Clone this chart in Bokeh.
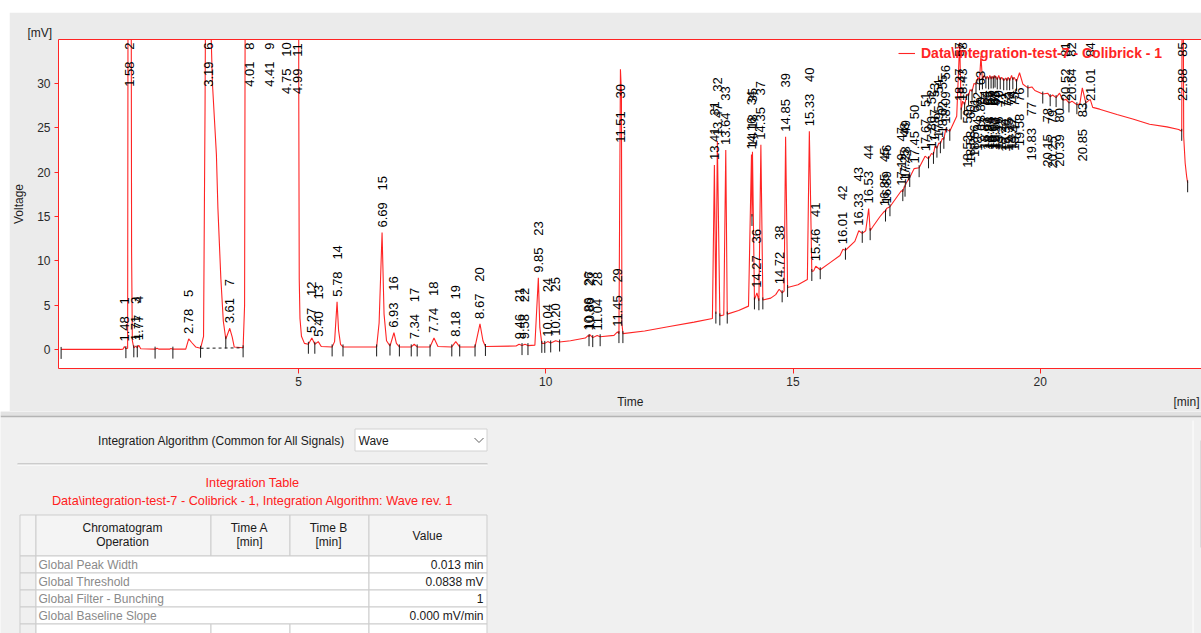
from math import pi

import numpy as np
from bokeh.core.properties import value
from bokeh.embed import file_html
from bokeh.layouts import column, row
from bokeh.models import FixedTicker, Legend, LegendItem, LinearAxis, Range1d, Spacer, Title
from bokeh.plotting import figure
from bokeh.resources import INLINE

FONT = "Liberation Sans"
RED = "#ff2424"
NBSP = "\u00a0"

# ---------------------------------------------------------------------------
# Chromatogram: signal outline between the peak apexes [min, mV]
# ---------------------------------------------------------------------------
signal_min = [
    0.20, 1.40, 1.45, 1.51, 1.545, 1.625, 1.64, 1.67, 1.74, 1.81, 2.10, 2.14, 2.18,
    2.40, 2.42, 2.46, 2.72, 2.84, 2.92, 3.02, 3.08, 3.11, 3.23, 3.26, 3.30, 3.34,
    3.37, 3.40, 3.43, 3.48, 3.53, 3.66, 3.70, 3.88, 3.91, 4.20, 4.60, 4.88, 5.005,
    5.015, 5.03, 5.06, 5.12, 5.20, 5.33, 5.46, 5.68, 5.73, 5.81, 5.85, 5.90, 6.58,
    6.63, 6.73, 6.78, 6.85, 6.98, 7.04, 7.28, 7.40, 7.66, 7.82, 8.10, 8.26, 8.57,
    8.73, 8.78, 9.40, 9.52, 9.64, 9.78, 9.88, 9.92, 9.98, 10.10, 10.28, 10.50,
    10.80, 10.875, 10.95, 11.10, 11.38, 11.48, 11.53, 11.54, 11.56, 12.00, 12.50,
    13.00, 13.37, 13.44, 13.52, 13.60, 13.67, 13.90, 14.10, 14.17, 14.22, 14.31,
    14.39, 14.55, 14.65, 14.78, 14.82, 14.89, 15.10, 15.29, 15.35, 15.38, 15.42,
    15.55, 15.75, 15.95, 16.06, 16.25, 16.40, 16.47, 16.56, 16.62, 16.76, 16.87,
    16.96, 17.10, 17.22, 17.265, 17.36, 17.55, 17.74, 17.84, 17.91, 17.98, 18.05,
    18.17, 18.31, 18.40, 18.47, 18.55, 18.62, 18.70, 18.77, 18.83, 18.90, 18.955,
    19.005, 19.05, 19.085, 19.13, 19.19, 19.26, 19.325, 19.38, 19.445, 19.52,
    19.65, 19.75, 19.89, 20.05, 20.20, 20.32, 20.46, 20.58, 20.74, 20.80, 20.92,
    21.06, 21.20, 21.55, 21.87, 22.21, 22.56, 22.80, 22.86, 22.90, 22.93, 22.96,
    22.98,
]
signal_mv = [
    0.02, 0.02, 0.05, 0.10, 0.15, 11.0, 1.0, 0.2, 0.2, 0.1, 0.05, 0.15, 0.05,
    0.05, 0.12, 0.05, 0.05, 0.8, 0.3, 0.15, 1.5, 27.0, 36.0, 30.0, 26.0, 22.0,
    16.0, 12.0, 8.0, 3.2, 1.2, 1.4, 0.3, 0.2, 5.0, 150.0, 150.0, 200.0, 30.0,
    8.0, 3.5, 1.5, 0.7, 0.6, 0.6, 0.35, 0.3, 0.9, 2.2, 0.6, 0.3, 0.3,
    3.0, 4.0, 1.0, 0.4, 0.7, 0.3, 0.3, 0.3, 0.3, 0.35, 0.3, 0.3, 0.3,
    1.0, 0.35, 0.4, 0.45, 0.45, 0.5, 2.5, 0.7, 0.7, 0.75, 0.85, 1.0,
    1.3, 1.45, 1.35, 1.45, 1.6, 1.8, 29.0, 3.0, 1.8, 2.1, 2.6,
    3.1, 3.5, 4.0, 3.8, 3.9, 4.0, 4.4, 4.9, 15.0, 5.6, 5.5,
    5.6, 5.8, 6.2, 6.4, 6.6, 7.0, 7.3, 7.9, 18.5, 8.8, 8.9,
    9.0, 9.8, 10.6, 11.2, 12.2, 13.1, 13.4, 13.4, 13.9, 15.0, 15.5,
    16.1, 17.2, 17.8, 18.3, 19.4, 20.5, 21.5, 22.0, 22.7, 23.2, 23.7,
    24.6, 26.3, 27.0, 27.6, 28.6, 29.1, 29.9, 30.3, 30.4, 30.5, 30.4,
    30.5, 30.5, 30.6, 30.4, 30.4, 30.3, 30.3, 30.3, 30.4, 30.2,
    29.9, 29.5, 29.2, 28.8, 28.5, 28.4, 28.1, 27.8, 27.6, 27.7, 27.8,
    27.3, 27.1, 26.5, 26.0, 25.4, 25.1, 24.8, 24.6, 24.0, 21.0, 19.5,
    18.8,
]

# Integrated peaks: number, retention time [min], apex [mV]
peak_no = list(range(1, 86))
peak_min = [
    1.48, 1.58, 1.71, 1.77, 2.78, 3.19, 3.61, 4.01, 4.41, 4.75,
    4.99, 5.27, 5.40, 5.78, 6.69, 6.93, 7.34, 7.74, 8.18, 8.67,
    9.46, 9.58, 9.85, 10.04, 10.20, 10.86, 10.89, 11.04, 11.45, 11.51,
    13.41, 13.47, 13.64, 14.16, 14.18, 14.27, 14.35, 14.72, 14.85, 15.33,
    15.46, 16.01, 16.33, 16.53, 16.85, 16.89, 17.19, 17.25, 17.28, 17.45,
    17.67, 17.80, 17.87, 17.95, 18.02, 18.09, 18.37, 18.43, 18.52, 18.58,
    18.66, 18.74, 18.80, 18.87, 18.93, 18.98, 19.03, 19.07, 19.10, 19.16,
    19.22, 19.30, 19.35, 19.42, 19.47, 19.58, 19.83, 20.15, 20.25, 20.39,
    20.52, 20.64, 20.85, 21.01, 22.88,
]
peak_mv = [
    0.35, 180.0, 0.4, 0.5, 1.2, 120.0, 2.4, 300.0, 300.0, 300.0,
    400.0, 1.3, 0.9, 5.4, 13.2, 1.9, 0.6, 1.3, 0.9, 2.9,
    0.6, 0.6, 8.1, 0.9, 1.0, 1.6, 1.7, 1.6, 2.0, 31.6,
    20.8, 23.5, 22.5, 22.0, 22.3, 6.4, 23.1, 6.8, 24.0, 24.6,
    9.4, 11.3, 13.4, 15.9, 15.6, 15.9, 17.9, 18.4, 18.7, 20.4,
    21.8, 22.1, 22.9, 23.3, 23.8, 24.9, 34.6, 28.0, 28.8, 29.3,
    30.0, 30.7, 33.1, 30.9, 30.8, 30.9, 30.8, 30.9, 30.8, 30.9,
    30.7, 30.6, 30.7, 30.9, 30.7, 31.2, 29.6, 28.9, 28.7, 28.9,
    28.2, 28.0, 29.5, 28.2, 60.0,
]

# peak groups integrated on a common (dashed) baseline: first and last peak number
common_baselines = [(6, 7)]

y_ticks = [0, 5, 10, 15, 20, 25, 30]
x_ticks = [5, 10, 15, 20]

# Integration table contents
table_rows = ["Global Peak Width", "Global Threshold", "Global Filter - Bunching", "Global Baseline Slope"]
table_values = ["0.013 min", "0.0838 mV", "1", "0.000 mV/min"]

# ---------------------------------------------------------------------------
# Chromatogram figure
# ---------------------------------------------------------------------------
X0, X1 = 0.147, 23.26
Y0, Y1 = -2.13, 34.95
FRAME_W, FRAME_H = 1143, 330
PX_Y = FRAME_H / (Y1 - Y0)

p = figure(
    width=1192, height=399,
    x_range=Range1d(X0, X1), y_range=Range1d(Y0, Y1),
    output_backend="svg", toolbar_location=None,
    min_border_left=49, min_border_right=0, min_border_top=27, min_border_bottom=42,
    background_fill_color="white", border_fill_color="#ebebeb",
    outline_line_color=None,
)
p.grid.visible = False

for ax in (p.xaxis[0], p.yaxis[0]):
    ax.axis_line_color = RED
    ax.major_tick_line_color = RED
    ax.minor_tick_line_color = None
    ax.major_tick_in = 0
    ax.major_label_text_font = FONT
    ax.major_label_text_font_size = "12px"
    ax.major_label_text_color = "#2a2a2a"
    ax.axis_label_text_font = FONT
    ax.axis_label_text_font_size = "12px"
    ax.axis_label_text_font_style = "normal"
    ax.axis_label_text_color = "#1e1e1e"

# the time caption is centred under the frame, the unit sits at its right end
NB_W = 3.336          # width of a no-break space at 12px
left_pad = NBSP * 167
right_pad = NBSP * 159
p.xaxis[0].ticker = FixedTicker(ticks=x_ticks)
p.xaxis[0].axis_label = left_pad + "Time" + right_pad + "[min]"
p.xaxis[0].major_tick_out = 5
p.xaxis[0].major_label_standoff = 3
p.xaxis[0].axis_label_standoff = 6

p.yaxis[0].ticker = FixedTicker(ticks=y_ticks)
p.yaxis[0].axis_label = "Voltage"
p.yaxis[0].major_tick_out = 4
p.yaxis[0].major_label_standoff = 4
p.yaxis[0].axis_label_standoff = 8

top_axis = LinearAxis(
    ticker=FixedTicker(ticks=[]), axis_line_color=RED,
    major_tick_line_color=None, minor_tick_line_color=None,
    major_tick_out=0, major_tick_in=0, major_label_standoff=0,
    major_label_text_font_size="0px",
)
p.add_layout(top_axis, "above")
p.add_layout(Title(text="[mV]", align="left", offset=-31, standoff=0, text_font=FONT,
                   text_font_size="12px", text_font_style="normal", text_color="#1e1e1e"), "above")

# merged signal: outline points plus peak apexes
t_all = np.array(signal_min + peak_min)
v_all = np.array(signal_mv + peak_mv)
order = np.argsort(t_all, kind="stable")
trace_t = t_all[order]
trace_v = v_all[order]
trace = p.line(trace_t, trace_v, line_color=RED, line_width=1.1)

# peak start / end markers at the valleys on both sides of each apex
apex_index = {t: int(np.where(trace_t == t)[0][0]) for t in peak_min}
valleys = {}
marks = set()
for n, t in zip(peak_no, peak_min):
    i = apex_index[t]
    j = i - 1
    while j > 0 and trace_v[j - 1] <= trace_v[j]:
        j -= 1
    k = i + 1
    while k < len(trace_v) - 1 and trace_v[k + 1] <= trace_v[k]:
        k += 1
    valleys[n] = (j, k)
    for idx in (j, k):
        if trace_v[idx] < Y1 - 1:
            marks.add(idx)
marks = sorted(marks)
mx = [trace_t[m] for m in marks]
my = [trace_v[m] for m in marks]
p.segment(x0=mx, y0=[v + 2.5 / PX_Y for v in my], x1=mx, y1=[v - 9.5 / PX_Y for v in my],
          line_color="#1a1a1a", line_width=1)

for first, last in common_baselines:
    a, b = valleys[first][0], valleys[last][1]
    p.line([trace_t[a], trace_t[b]], [trace_v[a], trace_v[b]], line_color="#1a1a1a",
           line_width=1, line_dash="3 3")


# peak labels: retention time and peak number, rotated, stacked over the apex
def text_len(s):
    return sum(3.6 if c == "." else 7.2 for c in s)


lab_x, time_y, time_txt, num_y, num_txt = [], [], [], [], []
limit = Y1 - 3 / PX_Y
for n, t, v in zip(peak_no, peak_min, peak_mv):
    ts, ns = f"{t:.2f}", str(n)
    lt, ln = text_len(ts) / PX_Y, text_len(ns) / PX_Y
    apex = min(v, Y1)
    base = apex + 5 / PX_Y
    n_bot = base + lt + 12 / PX_Y
    n_top = n_bot + ln
    over = n_top - limit
    if over <= 8 / PX_Y or apex > Y1 - 10 / PX_Y:
        shift = max(0.0, over)
        t_bot, n_bot = base - shift, n_bot - shift
    else:
        # no room above the apex: hang the labels below it
        n_top = apex - 15 / PX_Y
        n_bot = n_top - ln
        t_bot = n_bot - 12 / PX_Y - lt
    lab_x.append(t)
    time_y.append(t_bot)
    time_txt.append(ts)
    num_y.append(n_bot)
    num_txt.append(ns)

for ys, txt in ((time_y, time_txt), (num_y, num_txt)):
    p.text(x=lab_x, y=ys, text=txt, angle=pi / 2, text_align="left", text_baseline="middle",
           text_font=value(FONT), text_font_size="13px", text_color="#000000")

legend = Legend(
    items=[LegendItem(label="Data\\integration-test-7 - Colibrick - 1", renderers=[trace])],
    location=(840, 307), orientation="vertical",
    glyph_width=17, glyph_height=14, label_height=14, label_standoff=6,
    padding=0, margin=0, spacing=0,
    background_fill_alpha=0, border_line_alpha=0,
    label_text_font=FONT, label_text_font_size="14px", label_text_font_style="bold",
    label_text_color=RED,
)
p.add_layout(legend)

# ---------------------------------------------------------------------------
# Integration settings panel
# ---------------------------------------------------------------------------
q = figure(
    width=1201, height=222,
    x_range=Range1d(0, 1201), y_range=Range1d(633, 411),
    output_backend="svg", toolbar_location=None, min_border=0,
    x_axis_type=None, y_axis_type=None,
    background_fill_color="#f0f0f0", border_fill_color="#f0f0f0",
    outline_line_color=None,
)
q.grid.visible = False

# splitter between the chart and the panel
q.quad(left=[0], right=[1201], top=[411], bottom=[415.5], fill_color="#e2e2e2", line_color=None)
q.segment(x0=[0], y0=[416], x1=[1201], y1=[416], line_color="#b4b4b4", line_width=1.5)
q.segment(x0=[1192.5], y0=[420], x1=[1192.5], y1=[633], line_color="#ffffff", line_width=1)
q.segment(x0=[1200.5], y0=[440], x1=[1200.5], y1=[547], line_color="#c4c4c4", line_width=1)

# algorithm selector
q.text(x=[345], y=[440], text=["Integration Algorithm (Common for All Signals)"], text_align="right",
       text_baseline="middle", text_font=value(FONT), text_font_size="12px", text_color="#1a1a1a")
q.quad(left=[354.5], right=[486.5], top=[428.5], bottom=[450.5], fill_color="white", line_color="#d2d2d2")
q.text(x=[358], y=[440], text=["Wave"], text_align="left", text_baseline="middle",
       text_font=value(FONT), text_font_size="12px", text_color="#1a1a1a")
q.line(x=[474, 478.5, 483], y=[437.5, 442, 437.5], line_color="#606060", line_width=1)

q.segment(x0=[17], y0=[463.5], x1=[487], y1=[463.5], line_color="#a8a8a8", line_width=1)
q.segment(x0=[17], y0=[464.5], x1=[487], y1=[464.5], line_color="#ffffff", line_width=1)

q.text(x=[252, 252], y=[482, 500],
       text=["Integration Table", "Data\\integration-test-7 - Colibrick - 1, Integration Algorithm: Wave rev. 1"],
       text_align="center", text_baseline="middle", text_font=value(FONT), text_font_size="12.7px",
       text_color="#ff2020")

# table grid
cols = [19.5, 35.5, 210.5, 289.5, 368.5, 486.5]
head_top, head_bot = 514.5, 555.5
row_edges = [555.5, 572.5, 589.5, 606.5, 623.5, 640.5]
GRID = "#cdcdcd"

q.quad(left=cols[:-1], right=cols[1:], top=[head_top] * 5, bottom=[head_bot] * 5,
       fill_color="#f4f4f4", line_color=GRID)
for r in range(len(row_edges) - 1):
    top, bot = row_edges[r], row_edges[r + 1]
    q.quad(left=[cols[0]], right=[cols[1]], top=[top], bottom=[bot], fill_color="#f0f0f0", line_color=GRID)
    if r < len(table_rows):
        q.quad(left=[cols[1], cols[4]], right=[cols[4], cols[5]], top=[top] * 2, bottom=[bot] * 2,
               fill_color="white", line_color=GRID)
    else:
        q.quad(left=cols[1:-1], right=cols[2:], top=[top] * 4, bottom=[bot] * 4,
               fill_color="white", line_color=GRID)

hdr_x = [122, 122, 249, 249, 328, 328, 427]
hdr_y = [527, 541, 527, 541, 527, 541, 535]
hdr_t = ["Chromatogram", "Operation", "Time A", "[min]", "Time B", "[min]", "Value"]
q.text(x=hdr_x, y=hdr_y, text=hdr_t, text_align="center", text_baseline="middle",
       text_font=value(FONT), text_font_size="12px", text_color="#1a1a1a")

row_mid = [(row_edges[r] + row_edges[r + 1]) / 2 for r in range(len(table_rows))]
q.text(x=[38] * len(table_rows), y=row_mid, text=table_rows, text_align="left", text_baseline="middle",
       text_font=value(FONT), text_font_size="12px", text_color="#8a8a8a")
q.text(x=[483] * len(table_values), y=row_mid, text=table_values, text_align="right",
       text_baseline="middle", text_font=value(FONT), text_font_size="12px", text_color="#1a1a1a")

layout = column(
    Spacer(width=1201, height=12),
    row(Spacer(width=9, height=399), p),
    q,
)

open("out.html", "w").write(file_html(layout, INLINE))
